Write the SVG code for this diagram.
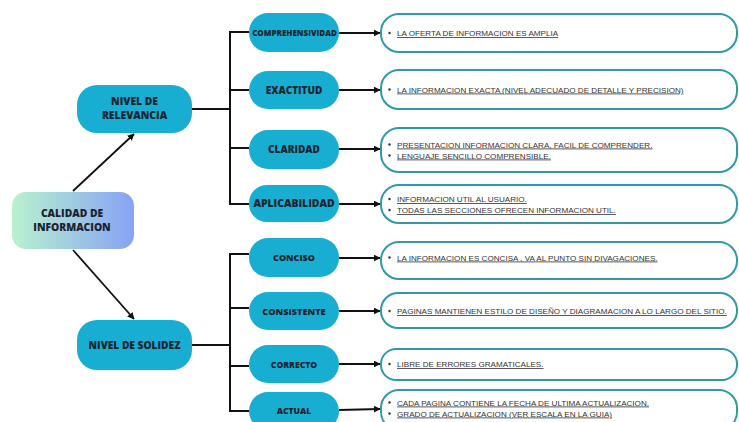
<svg xmlns="http://www.w3.org/2000/svg" width="739" height="422" viewBox="0 0 739 422">
<defs>
<linearGradient id="g" x1="0" y1="0" x2="1" y2="0">
<stop offset="0" stop-color="#b8f2cf"/>
<stop offset="1" stop-color="#87a3f4"/>
</linearGradient>
<marker id="ah" viewBox="0 0 10 10" refX="9" refY="5" markerWidth="7" markerHeight="7" markerUnits="userSpaceOnUse" orient="auto">
<path d="M0,0 L10,5 L0,10 Z" fill="#111"/>
</marker>
<style>
.pill{fill:#17aed2;}
.lbl{font-family:"Open Sans","DejaVu Sans",sans-serif;font-weight:800;fill:#1b2330;text-anchor:middle;}
.box{fill:#fff;stroke:#2f9aa3;stroke-width:2;}
.t{font-family:"Liberation Sans",Arial,sans-serif;font-size:8.1px;fill:#333;text-decoration:underline;}
.b{fill:#333;}
.ln{stroke:#111;stroke-width:2;fill:none;}
.ar{stroke:#111;stroke-width:1.8;fill:none;marker-end:url(#ah);}
</style>
</defs>
<rect width="739" height="422" fill="#fff"/>
<g id="connectors">
<line class="ar" x1="73" y1="191" x2="134" y2="134"/>
<line class="ar" x1="73" y1="250" x2="134" y2="319"/>
<path class="ln" d="M192,109 H230 M249,32 H230 V204 H249 M230,90 H249 M230,148 H249"/>
<path class="ln" d="M192,345 H230 M249,254 H230 V411 H249 M230,308 H249 M230,366 H249"/>
<line class="ar" x1="339" y1="33" x2="380" y2="33"/>
<line class="ar" x1="339" y1="90" x2="380" y2="90"/>
<line class="ar" x1="339" y1="149" x2="380" y2="149"/>
<line class="ar" x1="339" y1="204" x2="380" y2="204"/>
<line class="ar" x1="339" y1="258" x2="380" y2="258"/>
<line class="ar" x1="339" y1="311" x2="380" y2="311"/>
<line class="ar" x1="339" y1="364" x2="380" y2="364"/>
<line class="ar" x1="339" y1="410" x2="380" y2="409"/>
</g>
<g id="calidad">
<rect x="12" y="192" width="122" height="57" rx="14" fill="url(#g)"/>
<text class="lbl" x="72" y="217" font-size="10.3">CALIDAD DE</text>
<text class="lbl" x="72" y="231" font-size="10.3">INFORMACION</text>
</g>
<g id="relevancia">
<rect class="pill" x="77" y="85" width="115" height="48" rx="20"/>
<text class="lbl" x="134.5" y="105" font-size="10.3">NIVEL DE</text>
<text class="lbl" x="134.5" y="119" font-size="10.3">RELEVANCIA</text>
</g>
<g id="solidez">
<rect class="pill" x="77" y="320" width="115" height="50" rx="20"/>
<text class="lbl" x="134.5" y="348.5" font-size="10.2">NIVEL DE SOLIDEZ</text>
</g>
<g id="comprehensividad">
<rect class="pill" x="249" y="13" width="90" height="39" rx="19"/>
<text class="lbl" x="294.5" y="35.5" font-size="8">COMPREHENSIVIDAD</text>
</g>
<g id="exactitud">
<rect class="pill" x="249" y="71" width="90" height="38" rx="19"/>
<text class="lbl" x="294" y="93.5" font-size="10">EXACTITUD</text>
</g>
<g id="claridad">
<rect class="pill" x="249" y="130" width="90" height="39" rx="19"/>
<text class="lbl" x="294" y="152.5" font-size="10">CLARIDAD</text>
</g>
<g id="aplicabilidad">
<rect class="pill" x="249" y="185" width="90" height="37" rx="18"/>
<text class="lbl" x="294" y="207" font-size="10.4">APLICABILIDAD</text>
</g>
<g id="conciso">
<rect class="pill" x="249" y="238" width="90" height="39" rx="19"/>
<text class="lbl" x="294" y="261" font-size="9">CONCISO</text>
</g>
<g id="consistente">
<rect class="pill" x="249" y="292" width="90" height="38" rx="19"/>
<text class="lbl" x="294" y="314.5" font-size="9.2">CONSISTENTE</text>
</g>
<g id="correcto">
<rect class="pill" x="249" y="345" width="90" height="38" rx="19"/>
<text class="lbl" x="294" y="367.5" font-size="8.6">CORRECTO</text>
</g>
<g id="actual">
<rect class="pill" x="249" y="392" width="90" height="38" rx="19"/>
<text class="lbl" x="294" y="413.5" font-size="8.6">ACTUAL</text>
</g>
<g id="box1">
<rect class="box" x="381" y="14" width="356" height="38" rx="18"/>
<circle class="b" cx="389.5" cy="33" r="1.2"/>
<text class="t" x="397" y="36">LA OFERTA DE INFORMACION ES AMPLIA</text>
</g>
<g id="box2">
<rect class="box" x="381" y="70" width="356" height="39" rx="18"/>
<circle class="b" cx="389.5" cy="89.5" r="1.2"/>
<text class="t" x="397" y="92.5">LA INFORMACION EXACTA (NIVEL ADECUADO DE DETALLE Y PRECISION)</text>
</g>
<g id="box3">
<rect class="box" x="381" y="128" width="356" height="44" rx="18"/>
<circle class="b" cx="389.5" cy="144.5" r="1.2"/>
<text class="t" x="397" y="147.5">PRESENTACION INFORMACION CLARA, FACIL DE COMPRENDER.</text>
<circle class="b" cx="389.5" cy="155.5" r="1.2"/>
<text class="t" x="397" y="158.5">LENGUAJE  SENCILLO COMPRENSIBLE.</text>
</g>
<g id="box4">
<rect class="box" x="381" y="185" width="356" height="38" rx="18"/>
<circle class="b" cx="389.5" cy="199" r="1.2"/>
<text class="t" x="397" y="202">INFORMACION UTIL AL USUARIO.</text>
<circle class="b" cx="389.5" cy="210" r="1.2"/>
<text class="t" x="397" y="213">TODAS LAS SECCIONES OFRECEN INFORMACION UTIL.</text>
</g>
<g id="box5">
<rect class="box" x="381" y="242" width="356" height="37" rx="18"/>
<circle class="b" cx="389.5" cy="257.5" r="1.2"/>
<text class="t" x="397" y="260.5">LA INFORMACION ES CONCISA , VA AL PUNTO SIN DIVAGACIONES.</text>
</g>
<g id="box6">
<rect class="box" x="381" y="293" width="356" height="35" rx="17"/>
<circle class="b" cx="389.5" cy="311" r="1.2"/>
<text class="t" x="397" y="314">PAGINAS MANTIENEN ESTILO DE DISEÑO Y DIAGRAMACION A LO LARGO DEL SITIO.</text>
</g>
<g id="box7">
<rect class="box" x="381" y="349" width="356" height="31" rx="15"/>
<circle class="b" cx="389.5" cy="364" r="1.2"/>
<text class="t" x="397" y="367">LIBRE DE ERRORES GRAMATICALES.</text>
</g>
<g id="box8">
<rect class="box" x="381" y="390" width="356" height="40" rx="18"/>
<circle class="b" cx="389.5" cy="402.5" r="1.2"/>
<text class="t" x="397" y="405.5">CADA PAGINA CONTIENE LA FECHA DE ULTIMA ACTUALIZACION.</text>
<circle class="b" cx="389.5" cy="413.5" r="1.2"/>
<text class="t" x="397" y="416.5">GRADO DE ACTUALIZACION (VER ESCALA EN LA GUIA)</text>
</g>
</svg>
